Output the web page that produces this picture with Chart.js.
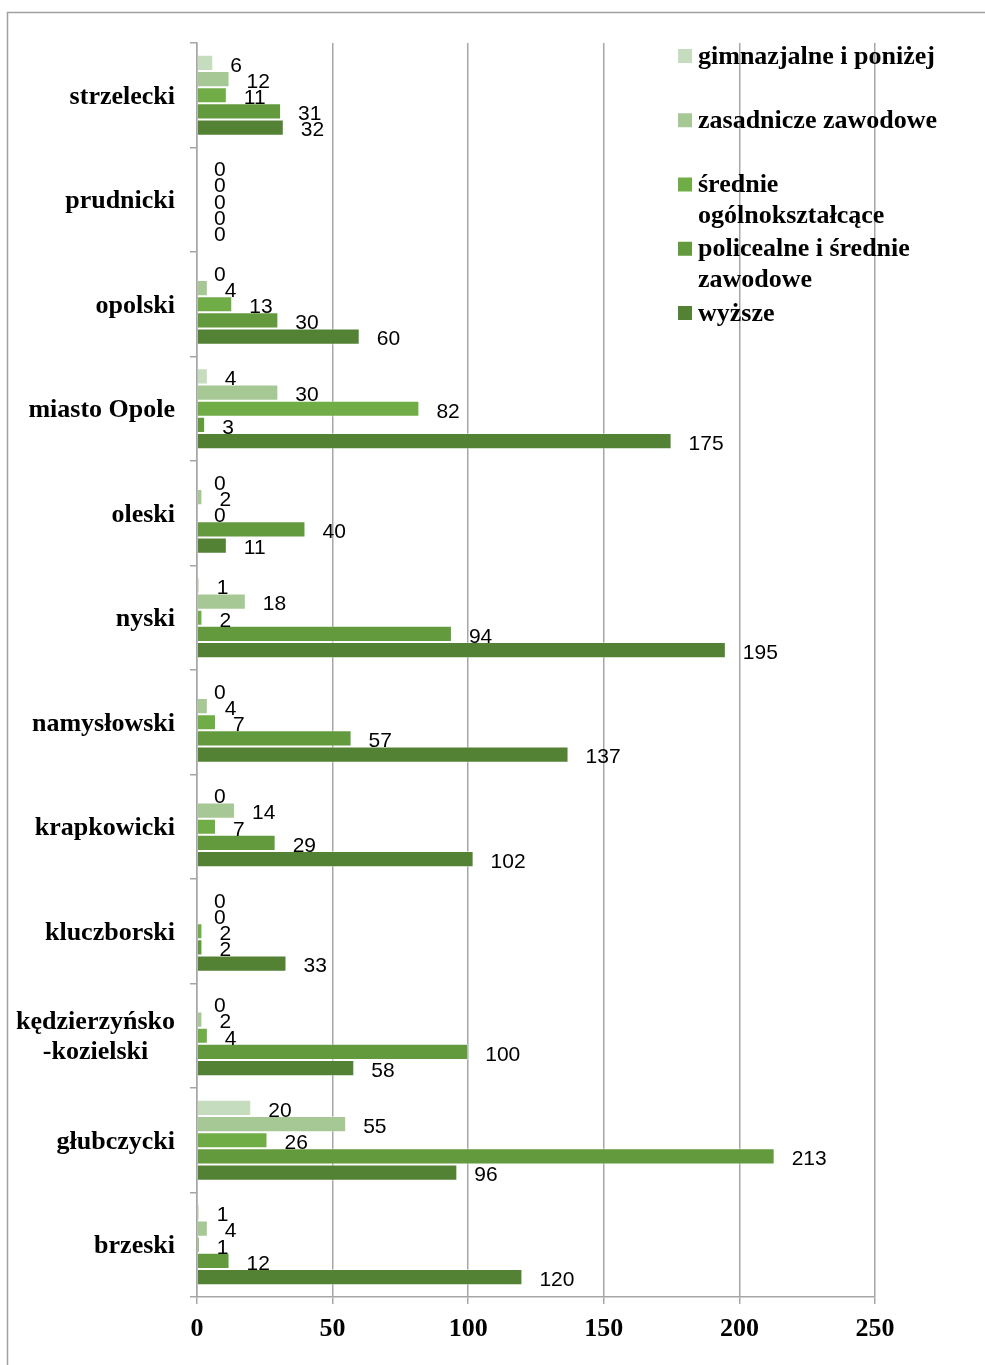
<!DOCTYPE html>
<html>
<head>
<meta charset="utf-8">
<title>Wykształcenie według powiatów</title>
<script src="https://cdn.jsdelivr.net/npm/chart.js@4.4.1/dist/chart.umd.min.js"></script>
<style>
  html, body { margin: 0; padding: 0; background: #ffffff; }
  canvas { display: block; }
</style>
</head>
<body>
<canvas id="chart" width="985" height="1365"></canvas>
<script>
// Powiaty, listed top to bottom as they appear on the chart
const powiaty = [
  ['strzelecki'],
  ['prudnicki'],
  ['opolski'],
  ['miasto Opole'],
  ['oleski'],
  ['nyski'],
  ['namysłowski'],
  ['krapkowicki'],
  ['kluczborski'],
  ['kędzierzyńsko', '-kozielski'],
  ['głubczycki'],
  ['brzeski']
];

// Series names (legend order)
const seriesNames = [
  'gimnazjalne i poniżej',
  'zasadnicze zawodowe',
  'średnie ogólnokształcące',
  'policealne i średnie zawodowe',
  'wyższe'
];

// Values per powiat, same order as powiaty
const gimnazjalne  = [6, 0, 0, 4, 0, 1, 0, 0, 0, 0, 20, 1];
const zasadnicze   = [12, 0, 4, 30, 2, 18, 4, 14, 0, 2, 55, 4];
const srednieOgol  = [11, 0, 13, 82, 0, 2, 7, 7, 2, 4, 26, 1];
const policealne   = [31, 0, 30, 3, 40, 94, 57, 29, 2, 100, 213, 12];
const wyzsze       = [32, 0, 60, 175, 11, 195, 137, 102, 33, 58, 96, 120];

// Value axis ticks
const xTicks = [0, 50, 100, 150, 200, 250];

const seriesColors = ['#c5dcbe', '#a6c895', '#70ad47', '#639a3e', '#548235'];
const seriesValues = [gimnazjalne, zasadnicze, srednieOgol, policealne, wyzsze];

const SERIF_BOLD = 'bold 26px "Liberation Serif", "Times New Roman", serif';
const LABEL_FONT = '21px "Liberation Sans", Arial, sans-serif';
const GRID = '#a6a6a6';

// Outer frame and white background
const framePlugin = {
  id: 'frame',
  beforeDraw(chart) {
    const ctx = chart.ctx;
    ctx.save();
    ctx.fillStyle = '#ffffff';
    ctx.fillRect(0, 0, chart.width, chart.height);
    ctx.strokeStyle = '#a0a0a0';
    ctx.lineWidth = 1.5;
    ctx.beginPath();
    ctx.moveTo(7.5, chart.height);
    ctx.lineTo(7.5, 12.5);
    ctx.lineTo(chart.width, 12.5);
    ctx.stroke();
    ctx.restore();
  }
};

// Category names on the left, multi-line names centred within their block
const categoryLabelPlugin = {
  id: 'categoryLabels',
  afterDraw(chart) {
    const ctx = chart.ctx;
    const yScale = chart.scales.y;
    const right = chart.chartArea.left - 22;
    const lineH = 30;
    ctx.save();
    ctx.font = SERIF_BOLD;
    ctx.fillStyle = '#000000';
    ctx.textBaseline = 'middle';
    ctx.textAlign = 'center';
    powiaty.forEach((lines, i) => {
      const yc = yScale.getPixelForValue(i);
      const maxW = Math.max(...lines.map(l => ctx.measureText(l).width));
      const cx = right - maxW / 2;
      lines.forEach((line, k) => {
        const y = yc - (lines.length - 1) * lineH / 2 + k * lineH + 2;
        ctx.fillText(line, cx, y);
      });
    });
    ctx.restore();
  }
};

// Value labels placed just past the end of each bar
const valueLabelPlugin = {
  id: 'valueLabels',
  afterDatasetsDraw(chart) {
    const ctx = chart.ctx;
    ctx.save();
    ctx.font = LABEL_FONT;
    ctx.fillStyle = '#000000';
    ctx.textBaseline = 'middle';
    ctx.textAlign = 'left';
    chart.data.datasets.forEach((ds, di) => {
      const meta = chart.getDatasetMeta(di);
      meta.data.forEach((bar, i) => {
        ctx.fillText(String(ds.data[i]), bar.x + 17, bar.y + 3);
      });
    });
    ctx.restore();
  }
};

// Legend in the upper right, wrapped to a fixed width
const legendPlugin = {
  id: 'sideLegend',
  afterDraw(chart) {
    const ctx = chart.ctx;
    const boxX = 678, textX = 698, maxW = 265;
    const firstY = 57, step = 64.25, lineH = 31, box = 14;
    ctx.save();
    ctx.font = SERIF_BOLD;
    ctx.textBaseline = 'middle';
    ctx.textAlign = 'left';
    seriesNames.forEach((name, i) => {
      const words = name.split(' ');
      const lines = [];
      let cur = '';
      words.forEach(w => {
        const test = cur ? cur + ' ' + w : w;
        if (cur && ctx.measureText(test).width > maxW) {
          lines.push(cur);
          cur = w;
        } else {
          cur = test;
        }
      });
      if (cur) lines.push(cur);
      const y0 = firstY + i * step;
      ctx.fillStyle = seriesColors[i];
      ctx.fillRect(boxX, y0 - box / 2 - 1, box, box);
      ctx.fillStyle = '#000000';
      lines.forEach((line, k) => ctx.fillText(line, textX, y0 + k * lineH));
    });
    ctx.restore();
  }
};

new Chart(document.getElementById('chart'), {
  type: 'bar',
  data: {
    labels: powiaty,
    datasets: seriesNames.map((name, i) => ({
      label: name,
      data: seriesValues[i],
      backgroundColor: seriesColors[i],
      borderColor: 'rgba(255,255,255,0.45)',
      borderWidth: 1,
      borderSkipped: 'start',
      categoryPercentage: 0.775,
      barPercentage: 1.0
    }))
  },
  options: {
    indexAxis: 'y',
    responsive: false,
    animation: false,
    events: [],
    layout: { padding: { left: 8, top: 43, right: 110, bottom: 0 } },
    plugins: {
      legend: { display: false },
      tooltip: { enabled: false }
    },
    scales: {
      x: {
        min: xTicks[0],
        max: xTicks[xTicks.length - 1],
        afterBuildTicks(scale) {
          scale.ticks = xTicks.map(v => ({ value: v }));
        },
        afterFit(scale) { scale.height = 68; },
        grid: {
          color: GRID,
          lineWidth: 1.5,
          tickLength: 7,
          drawTicks: true
        },
        border: { color: GRID, width: 1.5 },
        ticks: {
          font: { family: '"Liberation Serif", "Times New Roman", serif', size: 26, weight: 'bold' },
          color: '#000000',
          padding: 10,
          maxRotation: 0
        }
      },
      y: {
        afterFit(scale) { scale.width = 189; },
        grid: {
          display: true,
          drawOnChartArea: false,
          offset: true,
          color: GRID,
          lineWidth: 1.5,
          tickLength: 7
        },
        border: { color: GRID, width: 1.5 },
        ticks: { display: false }
      }
    }
  },
  plugins: [framePlugin, categoryLabelPlugin, valueLabelPlugin, legendPlugin]
});
</script>
</body>
</html>
